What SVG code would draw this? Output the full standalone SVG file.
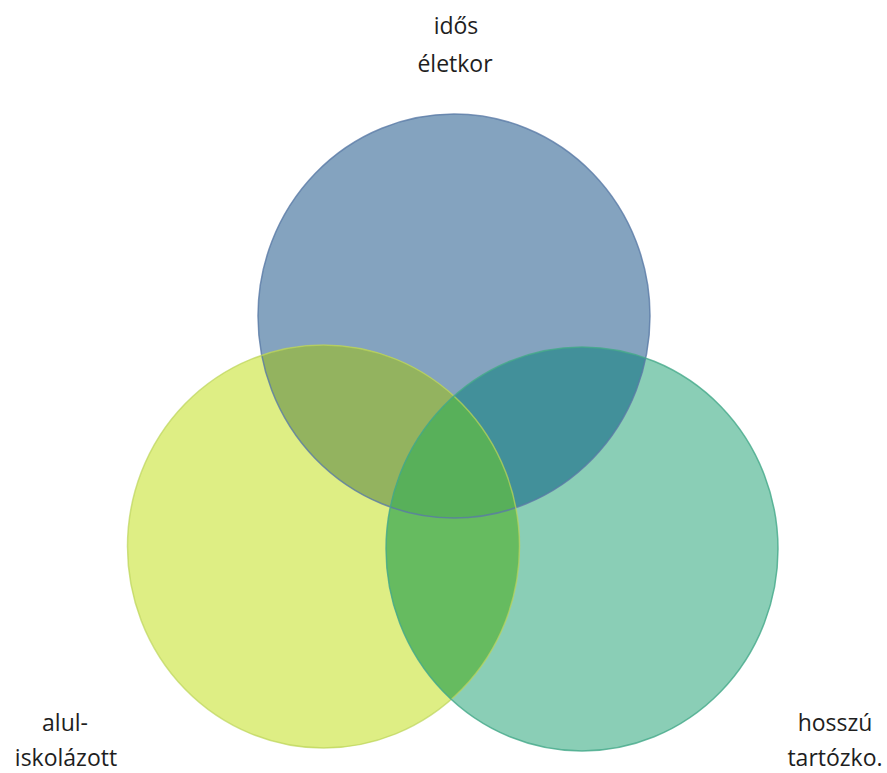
<svg xmlns="http://www.w3.org/2000/svg" width="887" height="773" viewBox="0 0 887 773">
<style>
  .lbl { font-family: "Open Sans", "Liberation Sans", sans-serif; font-size: 23px; fill: #1e1e1e; text-anchor: middle; }
  .edge { fill: none; stroke-width: 1.5; }
</style>
<defs>
  <clipPath id="cTop"><ellipse cx="454" cy="316" rx="196" ry="202"/></clipPath>
  <clipPath id="cLeft"><ellipse cx="323.5" cy="546.5" rx="196" ry="201.5"/></clipPath>
  <clipPath id="cRight"><ellipse cx="582" cy="549" rx="196" ry="202"/></clipPath>
</defs>
<rect width="887" height="773" fill="#ffffff"/>
<g id="node-top">
  <ellipse cx="454" cy="316" rx="196" ry="202" fill="#84a3bf"/>
  <text class="lbl" x="456" y="34">idős</text>
  <text class="lbl" x="455" y="72">életkor</text>
</g>
<g id="node-left">
  <ellipse cx="323.5" cy="546.5" rx="196" ry="201.5" fill="#deee84"/>
  <text class="lbl" x="65" y="731">alul-</text>
  <text class="lbl" x="66" y="766">iskolázott</text>
</g>
<g id="node-right">
  <ellipse cx="582" cy="549" rx="196" ry="202" fill="#8aceb6"/>
  <text class="lbl" x="835" y="731">hosszú</text>
  <text class="lbl" x="835" y="766">tartózko.</text>
</g>
<g id="overlaps">
  <ellipse cx="323.5" cy="546.5" rx="196" ry="201.5" fill="#93b35f" clip-path="url(#cTop)"/>
  <ellipse cx="582" cy="549" rx="196" ry="202" fill="#42909a" clip-path="url(#cTop)"/>
  <ellipse cx="582" cy="549" rx="196" ry="202" fill="#66bb60" clip-path="url(#cLeft)"/>
  <g clip-path="url(#cTop)">
    <ellipse cx="582" cy="549" rx="196" ry="202" fill="#58b05a" clip-path="url(#cLeft)"/>
  </g>
</g>
<g id="edges">
  <ellipse class="edge" cx="454" cy="316" rx="196" ry="202" stroke="#5a7ba6" stroke-opacity="0.8"/>
  <ellipse class="edge" cx="323.5" cy="546.5" rx="196" ry="201.5" stroke="#bcd45a" stroke-opacity="0.7"/>
  <ellipse class="edge" cx="582" cy="549" rx="196" ry="202" stroke="#45a98a" stroke-opacity="0.8"/>
</g>
</svg>
